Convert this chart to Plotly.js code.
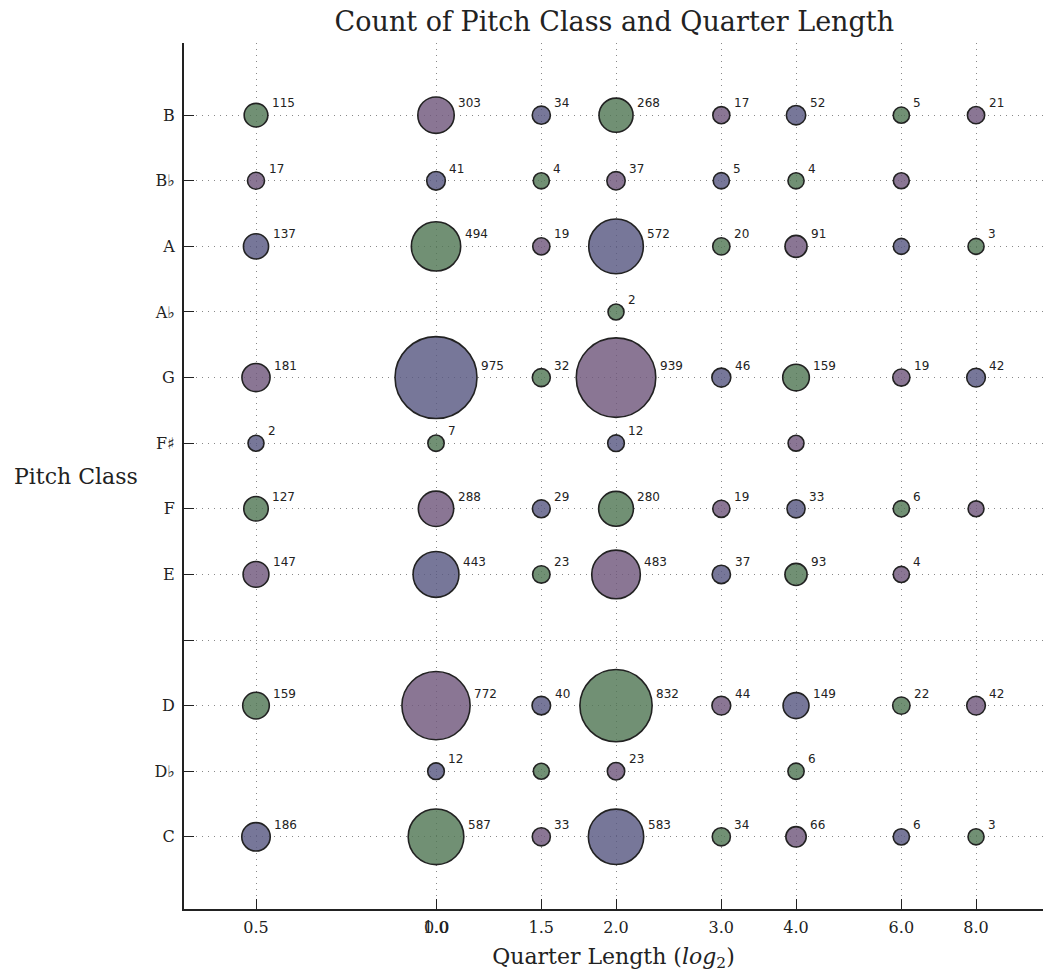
<!DOCTYPE html>
<html>
<head>
<meta charset="utf-8">
<script src="https://cdn.plot.ly/plotly-3.0.1.min.js"></script>
<style>html,body{margin:0;padding:0;background:#fff;}#chart{width:1043px;height:976px;}</style>
</head>
<body>
<div id="chart"></div>
<script>
// ---- data ----
const quarterLengths = [0.5, 1.0, 1.5, 2.0, 3.0, 4.0, 6.0, 8.0];
const quarterTickLabels = ['0.5', '1.0', '1.5', '2.0', '3.0', '4.0', '6.0', '8.0'];
const pitchTickLabels = ['C', 'D♭', 'D', '', 'E', 'F', 'F♯', 'G', 'A♭', 'A', 'B♭', 'B'];

// counts per pitch class, in quarterLengths order (null = no notes)
const countsC  = [186, 587, 33, 583, 34, 66, 6, 3];
const countsDb = [null, 12, 1, 23, null, 6, null, null];
const countsD  = [159, 772, 40, 832, 44, 149, 22, 42];
const countsEb = [null, null, null, null, null, null, null, null];
const countsE  = [147, 443, 23, 483, 37, 93, 4, null];
const countsF  = [127, 288, 29, 280, 19, 33, 6, 1];
const countsFs = [2, 7, null, 12, null, 1, null, null];
const countsG  = [181, 975, 32, 939, 46, 159, 19, 42];
const countsAb = [null, null, null, 2, null, null, null, null];
const countsA  = [137, 494, 19, 572, 20, 91, 1, 3];
const countsBb = [17, 41, 4, 37, 5, 4, 1, null];
const countsB  = [115, 303, 34, 268, 17, 52, 5, 21];

const countsByPitch = [countsC, countsDb, countsD, countsEb, countsE, countsF,
                       countsFs, countsG, countsAb, countsA, countsBb, countsB];

// ---- styling ----
const palette = ['rgba(89,89,130,0.82)', 'rgba(82,119,86,0.82)', 'rgba(112,88,124,0.82)'];
function radiusFor(c) { return 7.93 + 0.0339 * c; }

const xs = [], ys = [], sizes = [], colors = [], annotations = [];
countsByPitch.forEach((row, p) => {
  row.forEach((c, q) => {
    if (c === null) return;
    const r = radiusFor(c);
    xs.push(quarterLengths[q]);
    ys.push(p);
    sizes.push(2 * r);
    colors.push(palette[(p * quarterLengths.length + q) % 3]);
    if (c > 1) {
      annotations.push({
        xref: 'x', yref: 'y', x: Math.log10(quarterLengths[q]), y: p,
        text: String(c), showarrow: false, xanchor: 'left', yanchor: 'middle',
        xshift: r + 2, yshift: 12,
        font: {family: 'DejaVu Sans', size: 12, color: '#222'}
      });
    }
  });
});

// overlapping tick label seen in the reference
annotations.push({
  xref: 'x', yref: 'paper', x: 0, y: 0, text: '0.0', showarrow: false,
  xanchor: 'center', yanchor: 'middle', yshift: -18,
  font: {family: 'DejaVu Serif', size: 16, color: '#222'}
});
// y axis title (horizontal)
annotations.push({
  xref: 'paper', yref: 'paper', x: 0, y: 0.5, text: 'Pitch Class', showarrow: false,
  xanchor: 'right', yanchor: 'middle', xshift: -44,
  font: {family: 'DejaVu Serif', size: 22, color: '#222'}
});

const trace = {
  type: 'scatter', mode: 'markers', x: xs, y: ys,
  marker: {size: sizes, color: colors, opacity: 1, line: {color: '#222', width: 1.6}},
  hoverinfo: 'x+y', showlegend: false, cliponaxis: false
};

const l2 = Math.log10(2);
const gridStyle = {showgrid: true, gridcolor: '#888', gridwidth: 1, griddash: '1px,5px'};
const layout = {
  width: 1043, height: 976,
  margin: {l: 184, r: 0, t: 43, b: 67},
  paper_bgcolor: '#fff', plot_bgcolor: '#fff',
  font: {family: 'DejaVu Serif', color: '#222'},
  title: {text: 'Count of Pitch Class and Quarter Length', x: 0.589, xanchor: 'center', y: 0.978, yanchor: 'middle',
          font: {family: 'DejaVu Serif', size: 27, color: '#222'}},
  xaxis: Object.assign({
    type: 'log', range: [-1.4 * l2, 3.372 * l2],
    tickvals: quarterLengths, ticktext: quarterTickLabels,
    tickfont: {family: 'DejaVu Serif', size: 16, color: '#222'},
    ticks: 'inside', ticklen: 10, tickwidth: 1, tickcolor: '#222',
    showline: true, linecolor: '#222', linewidth: 2, mirror: false,
    zeroline: false, ticklabelstandoff: 3,
    title: {text: 'Quarter Length (<i>log</i><sub>2</sub>)', standoff: 12,
            font: {family: 'DejaVu Serif', size: 22, color: '#222'}}
  }, gridStyle),
  yaxis: Object.assign({
    range: [-1.1, 12.1],
    tickvals: pitchTickLabels.map((_, i) => i), ticktext: pitchTickLabels,
    tickfont: {family: 'DejaVu Serif', size: 16, color: '#222'},
    ticks: 'inside', ticklen: 10, tickwidth: 1, tickcolor: '#222',
    showline: true, linecolor: '#222', linewidth: 2, mirror: false,
    zeroline: false, ticklabelstandoff: 4
  }, gridStyle),
  annotations: annotations
};

Plotly.newPlot('chart', [trace], layout, {displayModeBar: false, staticPlot: true});
</script>
</body>
</html>
